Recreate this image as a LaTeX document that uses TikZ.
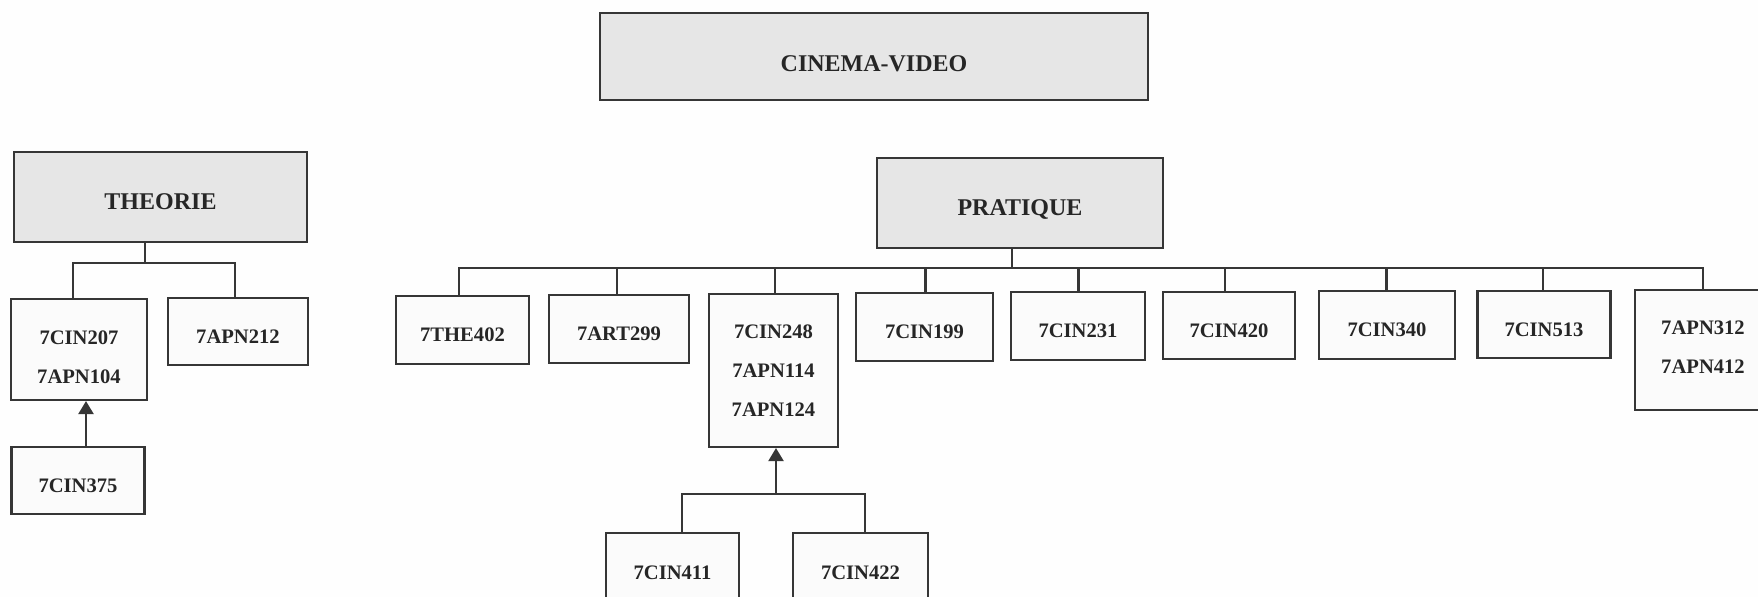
\documentclass[tikz,border=0pt]{standalone}
\usepackage{fontspec}
\setmainfont{Liberation Serif}
\usetikzlibrary{arrows.meta}
\definecolor{ln}{HTML}{363636}
\definecolor{txt}{HTML}{262626}
\definecolor{headfill}{HTML}{E6E6E6}
\definecolor{boxfill}{HTML}{FBFBFB}
\definecolor{bg}{HTML}{FEFEFE}
\begin{document}
\begin{tikzpicture}[x=0.5pt,y=-0.5pt,
  box/.style={draw=ln, line width=1.05pt, fill=boxfill, inner sep=0pt,
    font=\bfseries\fontsize{10.3}{19.5}\selectfont, text=txt, align=center},
  one/.style={box, text height=11.9pt, text depth=0pt},
  head/.style={box, fill=headfill, font=\bfseries\fontsize{12}{14}\selectfont,
    text height=12.4pt, text depth=0pt},
  sz/.style n args={2}{minimum width=#1, minimum height=#2},
  conn/.style={draw=ln, line width=1.05pt},
  arr/.style={conn, -{Triangle[length=6.5pt,width=7.5pt]}}]
\useasboundingbox (0,0) rectangle (1758,597);
\fill[bg] (0,0) rectangle (1758,597);
\clip (0,0) rectangle (1758,597);

% headers
\node[head, sz={274pt}{43.5pt}, text height=14.6pt] (cv) at (874,56.5) {CINEMA-VIDEO};
\node[head, sz={146.5pt}{45pt}] (theorie) at (160.5,197) {THEORIE};
\node[head, sz={143pt}{45pt}] (pratique) at (1020,203) {PRATIQUE};

% theorie children
\node[box, sz={68pt}{50.5pt}, text height=33.6pt, text depth=0pt] (c207) at (79,349.5) {7CIN207\\7APN104};
\node[one, sz={70pt}{33.5pt}] (a212) at (238,331.5) {7APN212};
\node[one, sz={66.5pt}{33.5pt}] (c375) at (78,480.5) {7CIN375};

% pratique children
\node[one, sz={66.5pt}{34pt}] (the402) at (462.5,330) {7THE402};
\node[one, sz={70pt}{34pt}] (art299) at (619,329) {7ART299};
\node[box, sz={64.5pt}{76.5pt}] (c248) at (773.5,370.5) {7CIN248\\7APN114\\7APN124};
\node[one, sz={68.5pt}{34pt}] (c199) at (924.5,327) {7CIN199};
\node[one, sz={67pt}{34pt}] (c231) at (1078,326) {7CIN231};
\node[one, sz={66pt}{33.5pt}] (c420) at (1229,325.5) {7CIN420};
\node[one, sz={68pt}{34pt}] (c340) at (1387,325) {7CIN340};
\node[one, sz={66.5pt}{33.5pt}] (c513) at (1544,324.5) {7CIN513};
\node[box, sz={68pt}{60pt}, text depth=2.8pt] (a312) at (1703,350) {7APN312\\7APN412};

% prerequisites of 7CIN248
\node[box, sz={66.5pt}{40pt}] (c411) at (672.5,573) {7CIN411};
\node[box, sz={67.5pt}{40pt}] (c422) at (860.5,573) {7CIN422};

% theorie connectors
\draw[conn] (theorie.south -| 145,0) -- (145,263);
\draw[conn] (c207.north -| 73,0) -- (73,263) -- (235,263) -- (a212.north -| 235,0);
\draw[arr] (c375.north -| 86,0) -- (c207.south -| 86,0);

% pratique connectors
\draw[conn] (pratique.south -| 1012,0) -- (1012,268);
\draw[conn] (the402.north -| 459,0) -- (459,268) -- (1703,268) -- (a312.north);
\draw[conn] (art299.north -| 617,0) -- (617,268);
\draw[conn] (c248.north -| 775,0) -- (775,268);
\draw[conn] (c199.north -| 925.5,0) -- (925.5,268);
\draw[conn] (c231.north -| 1078.5,0) -- (1078.5,268);
\draw[conn] (c420.north -| 1225,0) -- (1225,268);
\draw[conn] (c340.north -| 1386.5,0) -- (1386.5,268);
\draw[conn] (c513.north -| 1543,0) -- (1543,268);

% 7CIN411 / 7CIN422 -> 7CIN248
\coordinate (jb) at (776,494);
\draw[conn] (c411.north -| 682,0) -- (682,494) -- (865,494) -- (c422.north -| 865,0);
\draw[arr] (jb) -- (c248.south -| jb);
\end{tikzpicture}
\end{document}
